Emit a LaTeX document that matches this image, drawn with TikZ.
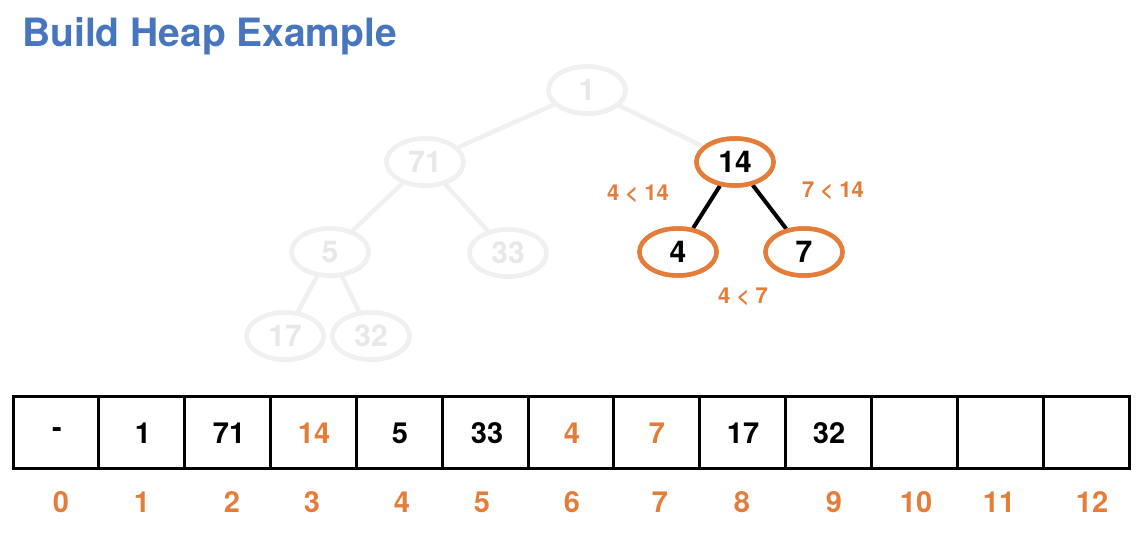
\documentclass[tikz,border=0pt]{standalone}
\usepackage{fontspec}
\setmainfont{TeX Gyre Heros}
\usetikzlibrary{shapes.geometric,shadows}
\definecolor{titleblue}{RGB}{72,118,190}
\definecolor{heaporange}{RGB}{229,125,58}
\definecolor{fadeline}{RGB}{240,240,240}
\definecolor{fadetext}{RGB}{232,232,232}
\begin{document}
\begin{tikzpicture}[x=1pt,y=-1pt,
  treenode/.style={ellipse, draw=fadeline, line width=4.5pt, fill=white,
    minimum width=77pt, minimum height=47pt, inner sep=0pt, text=fadetext,
    font=\bfseries\fontsize{30}{30}\selectfont,
    drop shadow={opacity=0.10, shadow xshift=1.5pt, shadow yshift=-2pt}},
  activenode/.style={treenode, draw=heaporange, text=black},
  fadeedge/.style={draw=fadeline, line width=4.5pt},
  activeedge/.style={draw=black, line width=4pt},
  cmplabel/.style={text=heaporange, font=\bfseries\fontsize{22}{22}\selectfont, inner sep=0pt},
  cell/.style={draw=black, line width=3pt, rectangle, minimum width=85.85pt, minimum height=72pt, inner sep=0pt},
  cellval/.style={font=\bfseries\fontsize{29}{29}\selectfont, inner sep=0pt},
  idxlabel/.style={text=heaporange, font=\bfseries\fontsize{29}{29}\selectfont, inner sep=0pt}
]
\useasboundingbox (0,0) rectangle (1148,535);

% title
\node[anchor=base west, text=titleblue, font=\bfseries\fontsize{39}{39}\selectfont, inner sep=0pt]
  (title) at (22,47) {Build Heap Example};

% tree nodes
\node[treenode] (n1)  at (587,90)  {1};
\node[treenode] (n71) at (425,162) {71};
\node[treenode] (n5)  at (330,252) {5};
\node[treenode] (n33) at (508,253) {33};
\node[treenode] (n17) at (285,336) {17};
\node[treenode] (n32) at (371,336) {32};
\node[activenode] (n14) at (735,162) {14};
\node[activenode] (n4)  at (678,252) {4};
\node[activenode] (n7)  at (804,252) {7};

% edges
\path[fadeedge] (n1) -- (n71);
\path[fadeedge] (n1) -- (n14);
\path[fadeedge] (n71) -- (n5);
\path[fadeedge] (n71) -- (n33);
\path[fadeedge] (n5) -- (n17);
\path[fadeedge] (n5) -- (n32);
\path[activeedge] (n14) -- (n4);
\path[activeedge] (n14) -- (n7);

% redraw nodes on top of edges
\node[treenode] at (n1)  {1};
\node[treenode] at (n71) {71};
\node[treenode] at (n5)  {5};
\node[treenode] at (n33) {33};
\node[treenode] at (n17) {17};
\node[treenode] at (n32) {32};
\node[activenode] at (n14) {14};
\node[activenode] at (n4)  {4};
\node[activenode] at (n7)  {7};

% comparison labels
\node[cmplabel] (l1) at (638,194) {4 < 14};
\node[cmplabel] (l2) at (833,191) {7 < 14};
\node[cmplabel] (l3) at (743,297) {4 < 7};

% array cells
\foreach \i in {0,...,12} {
  \node[cell] (c\i) at ({13+85.85*(\i+0.5)},432.5) {};
}
% values
\foreach \i/\x/\v/\c in {0/57/-/black,1/143/1/black,2/229/71/black,3/314/14/heaporange,
  4/400/5/black,5/487/33/black,6/572/4/heaporange,7/657/7/heaporange,8/743/17/black,9/829/32/black} {
  \node[cellval, text=\c] (v\i) at (\x,433) {\v};
}
% indices
\foreach \i/\x in {0/61,1/142,2/232,3/312,4/402,5/482,6/572,7/660,8/742,9/834,10/916,11/999,12/1092} {
  \node[idxlabel] (i\i) at (\x,502) {\i};
}
\end{tikzpicture}
\end{document}
